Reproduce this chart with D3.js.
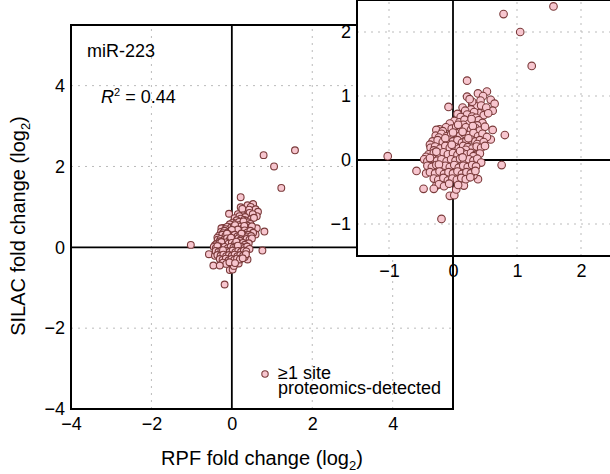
<!DOCTYPE html>
<head>
 <meta charset="utf-8">
 <script src="https://cdn.jsdelivr.net/npm/d3@7"></script>
 <title>miR-223 RPF vs SILAC</title>
</head>

<style>
body{
  margin: 0;
  background-color: white;
}
text{
  font-family: "Liberation Sans", Arial, sans-serif;
  font-size: 18px;
  fill: black;
}
</style>

<body>
 <div id="chart"></div>
</body>

<script type="text/javascript">
 // RPF (x) vs SILAC (y) fold changes, log2
 var points = [
   [1.57,2.40],[0.79,2.28],[1.05,2.00],[1.23,1.47],[-1.02,0.06],[-0.57,-0.17],[-0.46,-0.45],[-0.18,-0.92],
   [0.76,-0.08],[0.81,0.39],[0.62,0.47],[0.22,1.24],[-0.07,0.83],[0.39,1.04],[0.53,1.07],[0.47,1.00],
   [0.22,0.99],[0.59,0.94],[0.65,0.88],[0.62,0.77],[0.49,0.79],[0.15,0.82],[0.07,0.72],[0.30,0.87],
   [0.36,0.84],[0.41,0.73],[-0.05,-0.56],[0.02,-0.55],[0.05,-0.46],[0.17,-0.40],[0.39,-0.30],[0.32,-0.24],
   [-0.26,-0.40],[-0.42,-0.21],[-0.21,0.48],[-0.26,0.47],[0.59,0.32],
   [0.30,0.91],[0.43,0.93],[0.26,0.95],
   [0.28,0.79],[0.44,0.85],[0.52,0.82],[0.19,0.77],[0.33,0.75],
   [0.22,0.71],[0.30,0.68],[0.12,0.67],[0.36,0.66],[0.48,0.70],[0.55,0.73],[0.26,0.62],
   [0.02,0.61],[0.10,0.59],[0.18,0.63],[0.25,0.57],[0.33,0.60],[0.40,0.62],[0.46,0.58],[0.29,0.64],
   [0.16,0.55],[-0.05,0.57],[0.38,0.54],
   [-0.11,0.51],[-0.02,0.49],[0.05,0.52],[0.13,0.48],[0.20,0.51],[0.28,0.47],[0.35,0.50],[0.42,0.46],
   [0.08,0.55],[0.31,0.53],[-0.16,0.45],[0.50,0.52],
   [-0.27,0.38],[-0.18,0.41],[-0.10,0.37],[-0.03,0.40],[0.04,0.42],[0.11,0.38],[0.18,0.41],[0.25,0.39],
   [0.32,0.42],[0.39,0.37],[0.46,0.41],[0.15,0.44],[0.00,0.43],[0.53,0.36],[-0.22,0.35],
   [-0.32,0.29],[-0.24,0.31],[-0.16,0.28],[-0.08,0.32],[0.00,0.29],[0.07,0.31],[0.14,0.27],[0.21,0.30],
   [0.28,0.32],[0.35,0.29],[0.42,0.31],[-0.12,0.34],[0.24,0.34],[0.38,0.25],[0.48,0.28],[-0.36,0.24],
   [-0.35,0.19],[-0.28,0.21],[-0.20,0.18],[-0.12,0.22],[-0.05,0.19],[0.02,0.21],[0.09,0.18],[0.16,0.22],
   [0.23,0.20],[0.30,0.18],[0.37,0.21],[0.44,0.19],[0.50,0.22],[-0.02,0.24],[0.20,0.16],[-0.30,0.15],
   [-0.38,0.09],[-0.30,0.11],[-0.22,0.08],[-0.15,0.12],[-0.08,0.09],[0.00,0.11],[0.07,0.08],[0.14,0.12],
   [0.21,0.09],[0.28,0.11],[0.35,0.08],[0.42,0.10],[-0.26,0.13],[0.11,0.14],[0.32,0.06],[-0.42,0.05],
   [-0.45,0.01],[-0.40,-0.02],[-0.32,0.02],[-0.25,-0.01],[-0.18,0.01],[-0.10,-0.02],[-0.03,0.01],[0.04,-0.01],
   [0.11,0.02],[0.18,-0.02],[0.25,0.01],[0.32,-0.01],[0.38,0.02],[-0.36,0.03],[0.15,0.04],[0.44,-0.04],
   [-0.40,-0.09],[-0.33,-0.11],[-0.26,-0.08],[-0.19,-0.12],[-0.12,-0.09],[-0.05,-0.11],[0.02,-0.08],[0.09,-0.12],
   [0.16,-0.09],[0.23,-0.11],[0.30,-0.08],[0.36,-0.10],[-0.22,-0.07],
   [-0.36,-0.19],[-0.28,-0.21],[-0.21,-0.18],[-0.14,-0.22],[-0.07,-0.19],[0.00,-0.21],[0.07,-0.18],[0.14,-0.22],
   [0.21,-0.19],[0.28,-0.21],[0.35,-0.17],
   [-0.30,-0.29],[-0.23,-0.31],[-0.15,-0.28],[-0.08,-0.32],[-0.01,-0.29],[0.06,-0.31],[0.13,-0.28],[0.20,-0.30],
   [0.27,-0.27],
   [-0.22,-0.38],[-0.14,-0.41],[-0.06,-0.37],[0.08,-0.39],[-0.30,-0.45]
 ];

 var mainTicks = [-4, -2, 0, 2, 4];
 var mainGrid = [-2, 2, 4];
 var insetTicks = [-1, 0, 1, 2];
 var insetGrid = [-1, 1, 2];
 var legendLines = ["\u22651 site", "proteomics-detected"];

 var props = {
   width: 610,
   height: 474,
   fill: "#f7c6cf",
   stroke: "#7a3a3a",
   grid: "#bbbbbb"
 };

 var svg = d3.select("#chart").append("svg")
   .attr("width", props.width)
   .attr("height", props.height);

 var fmt = d3.format("d");

 function drawPanel(g, x, y, ticks, grid, r, pads){
   var x0 = x.range()[0], x1 = x.range()[1];
   var y0 = y.range()[0], y1 = y.range()[1];

   g.append("rect")
     .attr("x", x0).attr("y", y1)
     .attr("width", x1 - x0).attr("height", y0 - y1)
     .attr("fill", "white");

   g.selectAll(".gx").data(grid).enter().append("line")
     .attr("x1", function(d){ return x(d); }).attr("x2", function(d){ return x(d); })
     .attr("y1", y0).attr("y2", y1)
     .attr("stroke", props.grid).attr("stroke-dasharray", "2,5");
   g.selectAll(".gy").data(grid).enter().append("line")
     .attr("y1", function(d){ return y(d); }).attr("y2", function(d){ return y(d); })
     .attr("x1", x0).attr("x2", x1)
     .attr("stroke", props.grid).attr("stroke-dasharray", "2,5");

   // zero lines
   g.append("line").attr("x1", x(0)).attr("x2", x(0)).attr("y1", y0).attr("y2", y1)
     .attr("stroke", "black").attr("stroke-width", 1.8);
   g.append("line").attr("y1", y(0)).attr("y2", y(0)).attr("x1", x0).attr("x2", x1)
     .attr("stroke", "black").attr("stroke-width", 1.8);

   g.selectAll("circle.pt").data(points).enter().append("circle")
     .attr("class", "pt")
     .attr("cx", function(d){ return x(d[0]); })
     .attr("cy", function(d){ return y(d[1]); })
     .attr("r", r)
     .attr("fill", props.fill)
     .attr("stroke", props.stroke)
     .attr("stroke-width", 1.1);

   g.append("rect")
     .attr("x", x0).attr("y", y1)
     .attr("width", x1 - x0).attr("height", y0 - y1)
     .attr("fill", "none").attr("stroke", "black").attr("stroke-width", 2);

   var ax = g.append("g").attr("transform", "translate(0," + y0 + ")")
     .call(d3.axisBottom(x).tickValues(ticks).tickSize(0).tickPadding(pads[0]).tickFormat(fmt));
   var ay = g.append("g").attr("transform", "translate(" + x0 + ",0)")
     .call(d3.axisLeft(y).tickValues(ticks).tickSize(0).tickPadding(pads[1]).tickFormat(fmt));
   [ax, ay].forEach(function(a){
     a.select(".domain").remove();
     a.attr("font-size", null).attr("font-family", null);
   });
 }

 // main panel
 var x = d3.scaleLinear().domain([-4, 5.5]).range([71, 453]);
 var y = d3.scaleLinear().domain([-4, 5.5]).range([409, 25]);
 var main = svg.append("g");
 drawPanel(main, x, y, mainTicks, mainGrid, 3.4, [8, 6]);

 main.append("text").attr("x", 87).attr("y", 57).text("miR-223");
 var r2 = main.append("text").attr("x", 101).attr("y", 103);
 r2.append("tspan").style("font-style", "italic").text("R");
 r2.append("tspan").attr("dy", -7).style("font-size", "11px").text("2");
 r2.append("tspan").attr("dy", 7).text(" = 0.44");

 // legend (one text block, two tightly stacked lines as in the figure)
 main.append("circle").attr("cx", 265).attr("cy", 374).attr("r", 3.2)
   .attr("fill", props.fill).attr("stroke", props.stroke).attr("stroke-width", 1.1);
 main.append("text").attr("y", 379)
   .selectAll("tspan").data(legendLines).enter().append("tspan")
   .attr("x", 278)
   .attr("dy", function(d, i){ return i ? 15 : 0; })
   .text(function(d){ return d; });

 // axis titles
 var xt = svg.append("text").attr("x", 262).attr("y", 465)
   .attr("text-anchor", "middle").style("font-size", "20px");
 xt.append("tspan").text("RPF fold change (log");
 xt.append("tspan").attr("dy", 5).style("font-size", "13px").text("2");
 xt.append("tspan").attr("dy", -5).text(")");

 var yt = svg.append("text")
   .attr("transform", "translate(25,226) rotate(-90)")
   .attr("text-anchor", "middle").style("font-size", "20px");
 yt.append("tspan").text("SILAC fold change (log");
 yt.append("tspan").attr("dy", 5).style("font-size", "13px").text("2");
 yt.append("tspan").attr("dy", -5).text(")");

 // inset zoom
 var xi = d3.scaleLinear().domain([-1.5, 2.5]).range([357, 613]);
 var yi = d3.scaleLinear().domain([-1.5, 2.5]).range([256, 0]);
 var inset = svg.append("g");
 drawPanel(inset, xi, yi, insetTicks, insetGrid, 3.8, [8, 6]);
</script>
